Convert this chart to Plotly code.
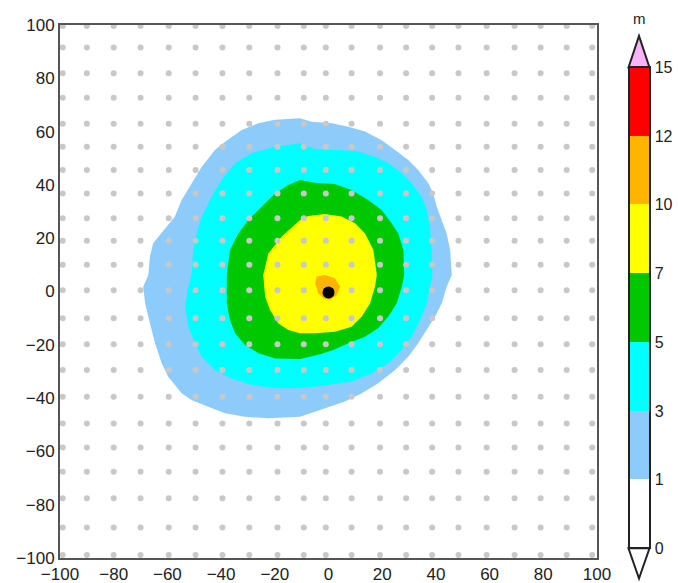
import plotly.graph_objects as go

# ---- data -------------------------------------------------------------
levels = [0, 1, 3, 5, 7, 10, 12, 15]
level_colors = ["#ffffff", "#8ccbfa", "#00ffff", "#00c800", "#ffff00", "#ffb400", "#ff0000"]
over_color = "#f8b4f8"
under_color = "#ffffff"
unit_label = "m"

# contour boundaries, outer level first
c1_x = [-10.6, -19.9, -26.1, -32.3, -38.5, -42.3, -47.2, -51.6, -54.7, -57.2, -62.1, -65.3, -66.5, -67.1,
        -69.0, -68.3, -66.5, -64.6, -62.1, -59.7, -54.7, -51.0, -44.8, -38.5, -31.1, -22.4, -10.6,
        -1.3, 6.1, 12.4, 18.5, 24.8, 29.7, 33.4, 36.6, 39.7, 42.2, 44.0,
        45.9, 45.3, 44.0, 42.2, 40.3, 39.0, 37.2, 33.4, 29.7, 24.8, 19.8, 13.6, 7.4, 1.2, -6.3]
c1_y = [65.0, 64.4, 63.1, 60.6, 56.2, 53.1, 46.8, 39.3, 34.3, 28.1, 21.8, 18.1, 13.1, 6.2,
        1.8, -4.4, -11.9, -19.4, -26.9, -32.0, -38.2, -40.7, -43.2, -45.7, -47.0, -47.6, -47.0,
        -43.8, -41.3, -38.2, -34.4, -29.5, -24.5, -19.4, -14.4, -9.4, -4.4, 1.8,
        6.2, 15.6, 21.8, 26.8, 31.8, 36.8, 40.6, 45.6, 49.3, 53.1, 56.8, 60.0, 61.8, 63.1, 63.7]

c3_x = [-10.6, -19.9, -28.6, -34.8, -39.8, -43.5, -47.2, -49.1, -50.4, -51.0,
        -52.2, -53.4, -52.2, -49.7, -47.2, -42.3, -36.1, -28.6, -19.9, -10.6,
        -0.1, 8.6, 16.1, 22.3, 27.3, 31.0, 34.1, 36.6, 37.8,
        38.7, 38.4, 37.8, 36.6, 34.7, 31.0, 27.3, 22.3, 17.3, 11.1, 3.6, -5.0]
c3_y = [55.6, 54.3, 51.9, 48.1, 41.8, 35.6, 28.1, 21.8, 15.6, 6.2,
        1.8, -5.7, -13.2, -19.4, -24.5, -29.5, -32.6, -35.1, -36.3, -36.3,
        -35.1, -33.8, -30.7, -26.9, -21.9, -17.0, -10.7, -4.4, 1.8,
        6.2, 15.6, 24.3, 30.6, 35.6, 40.6, 44.4, 48.1, 50.6, 52.5, 53.1, 53.4]

c5_x = [-10.6, -15.0, -19.9, -24.9, -29.9, -33.6, -36.7, -37.9,
        -37.9, -36.7, -34.8, -31.1, -26.1, -19.9, -10.6,
        -3.0, 2.0, 7.4, 13.6, 18.5, 22.3, 25.4, 27.3,
        28.2, 27.9, 26.0, 23.5, 19.8, 14.8, 8.6, 2.4, -5.0]
c5_y = [41.8, 40.0, 36.8, 31.8, 26.8, 21.8, 15.6, 6.2,
        -4.4, -10.7, -15.7, -20.1, -23.2, -25.1, -25.3,
        -23.5, -21.9, -19.4, -17.0, -13.8, -9.4, -4.4, 1.8,
        6.2, 15.6, 21.8, 25.6, 30.6, 34.3, 38.1, 40.3, 40.8]

c7_x = [-10.6, -17.4, -22.4, -24.3,
        -23.6, -21.8, -18.7, -15.0, -10.6,
        -5.0, 2.4, 8.6, 12.4, 15.5, 17.3,
        18.0, 16.7, 13.6, 9.9, 4.9, -1.3, -7.5]
c7_y = [26.8, 20.6, 14.3, 6.2,
        -2.0, -6.9, -11.9, -14.4, -15.7,
        -15.7, -15.1, -13.2, -9.4, -4.4, 1.8,
        6.2, 15.6, 21.8, 25.6, 28.1, 29.1, 28.3]

c10_x = [-5.0, -4.4, -1.3, 2.4, 4.3, 3.1, 0.6, -1.9, -3.8]
c10_y = [3.1, 5.6, 6.2, 5.0, 1.8, -1.3, -3.2, -2.6, -0.7]

contours = [(1, c1_x, c1_y), (2, c3_x, c3_y), (3, c5_x, c5_y), (4, c7_x, c7_y), (5, c10_x, c10_y)]

# grid-point columns and rows (gray dots)
grid_x = [-99, -90, -80, -70, -59.5, -49.5, -39.5, -29.5, -19, -9.2, -1,
          8.6, 19.2, 28.9, 38.6, 48.4, 58.9, 69.3, 79, 88.7, 98.2]
grid_y = [99.6, 91.6, 81.9, 72.7, 62.9, 54.3, 45.6, 36.8, 27.5, 19, 10, 0.5,
          -10, -19.8, -29.5, -39.5, -49.5, -58.5, -67.6, -77.6, -88.6, -98.9]

center_x = [0]
center_y = [-0.4]

x_ticks = [-100, -80, -60, -40, -20, 0, 20, 40, 60, 80, 100]
y_ticks = [-100, -80, -60, -40, -20, 0, 20, 40, 60, 80, 100]

# ---- figure -----------------------------------------------------------
W, H = 678, 583
PL, PT, PW, PH = 60, 25, 537, 533   # plot area in pixels
ML, MT = PL, PT
MR = W - ML - PW
MB = H - MT - PH

def px2paper_x(px):
    return (px - PL) / PW

def px2paper_y(py):
    return 1 - (py - PT) / PH

FONT = "Liberation Sans, Arial, sans-serif"
fig = go.Figure()

for idx, xs, ys in contours:
    fig.add_trace(go.Scatter(x=xs + [xs[0]], y=ys + [ys[0]], mode="lines", fill="toself",
                             fillcolor=level_colors[idx], line=dict(width=0, color=level_colors[idx]),
                             hoverinfo="skip", showlegend=False))

gx = [x for y in grid_y for x in grid_x]
gy = [y for y in grid_y for x in grid_x]
fig.add_trace(go.Scatter(x=gx, y=gy, mode="markers",
                         marker=dict(size=6, color="#c8c8c8"), hoverinfo="skip", showlegend=False))

fig.add_trace(go.Scatter(x=center_x, y=center_y, mode="markers",
                         marker=dict(size=12, color="black"), hoverinfo="skip", showlegend=False))

# colorbar (dummy trace)
n = len(level_colors)
cs = []
for i, c in enumerate(level_colors):
    cs.append([i / n, c])
    cs.append([(i + 1) / n, c])

bar_left, bar_right = 628.5, 649.5
bar_top, bar_bot = 67.5, 548.3
fig.add_trace(go.Scatter(x=[None], y=[None], mode="markers", showlegend=False, hoverinfo="skip",
                         marker=dict(color=[0], cmin=0, cmax=n, colorscale=cs, showscale=True,
                                     colorbar=dict(x=px2paper_x(bar_left), xanchor="left", xpad=0,
                                                   y=px2paper_y((bar_top + bar_bot) / 2), yanchor="middle", ypad=0,
                                                   len=bar_bot - bar_top, lenmode="pixels",
                                                   thickness=bar_right - bar_left, thicknessmode="pixels",
                                                   outlinecolor="#222222", outlinewidth=2,
                                                   tickvals=list(range(n + 1)),
                                                   ticktext=[str(v) for v in levels],
                                                   ticks="", ticklabelposition="outside",
                                                   tickfont=dict(size=16, color="#222222", family=FONT)))))

xl, xr, xm = px2paper_x(bar_left), px2paper_x(bar_right), px2paper_x((bar_left + bar_right) / 2)
yt, ytop = px2paper_y(bar_top), px2paper_y(36)
yb, ybot = px2paper_y(bar_bot), px2paper_y(578.5)
fig.add_shape(type="path", xref="paper", yref="paper",
              path=f"M {xl},{yt} L {xr},{yt} L {xm},{ytop} Z",
              fillcolor=over_color, line=dict(color="#222222", width=2))
fig.add_shape(type="path", xref="paper", yref="paper",
              path=f"M {xl},{yb} L {xr},{yb} L {xm},{ybot} Z",
              fillcolor=under_color, line=dict(color="#222222", width=2))
fig.add_annotation(x=xm, y=px2paper_y(19), xref="paper", yref="paper", text=unit_label,
                   xanchor="center", yanchor="middle",
                   showarrow=False, font=dict(size=15, color="#222222", family=FONT))

axis_common = dict(range=[-100, 100], showgrid=False, zeroline=False, showline=True, mirror=True,
                   linecolor="#555555", linewidth=2, ticks="", tickfont=dict(size=17, color="#222222"))
fig.update_xaxes(tickvals=x_ticks, **axis_common)
fig.update_yaxes(tickvals=y_ticks, **axis_common)

fig.update_layout(width=W, height=H, margin=dict(l=ML, r=MR, t=MT, b=MB, autoexpand=False),
                  paper_bgcolor="white", plot_bgcolor="white",
                  font=dict(family=FONT, color="#222222"),
                  showlegend=False)

fig.write_html("out.html", config={"displayModeBar": False},
               post_script="document.body.style.margin='0';document.body.style.overflow='hidden';")
